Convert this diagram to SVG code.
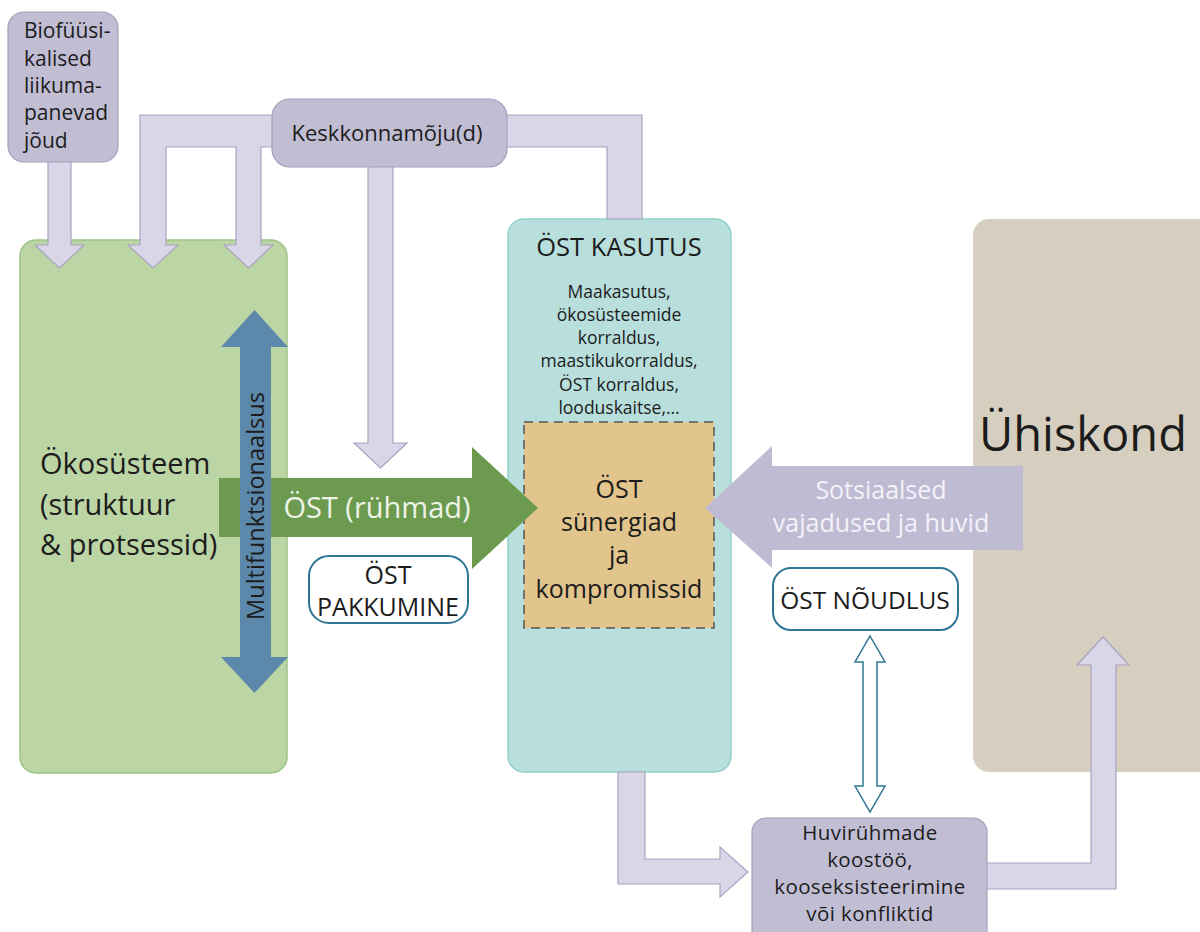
<svg xmlns="http://www.w3.org/2000/svg" width="1200" height="932" viewBox="0 0 1200 932">
<style>
text{font-family:"Open Sans","Noto Sans",sans-serif;fill:#1c1c1c}
.c{text-anchor:middle}
.lav{fill:#d9d7e7;stroke:#a7a4c0;stroke-width:1.2}
.pbox{fill:#c1bed4;stroke:#a3a0bd;stroke-width:1.2}
.obox{fill:#fff;stroke:#2f7595;stroke-width:2}
</style>
<rect width="1200" height="932" fill="#fff"/>
<g id="okosusteem">
<rect x="20" y="240" width="267" height="533" rx="16" fill="#bcd5a5" stroke="#9cc388" stroke-width="1.5"/>
<text x="40" y="474" font-size="29">Ökosüsteem</text>
<text x="40" y="515" font-size="29">(struktuur</text>
<text x="40" y="555" font-size="29">&amp; protsessid)</text>
</g>
<g id="ost-kasutus">
<rect x="508" y="219" width="223" height="553" rx="16" fill="#b8dfdc" stroke="#8ed2c9" stroke-width="1.5"/>
<text class="c" x="619" y="256" font-size="25.5">ÖST KASUTUS</text>
<text class="c" x="619" y="298" font-size="17.5">Maakasutus,</text>
<text class="c" x="619" y="321" font-size="17.5">ökosüsteemide</text>
<text class="c" x="619" y="344" font-size="17.5">korraldus,</text>
<text class="c" x="619" y="367" font-size="17.5">maastikukorraldus,</text>
<text class="c" x="619" y="391" font-size="17.5">ÖST korraldus,</text>
<text class="c" x="619" y="414" font-size="17.5">looduskaitse,…</text>
</g>
<g id="uhiskond">
<rect x="973" y="219" width="245" height="553" rx="16" fill="#d6cfc0"/>
<text x="979" y="451" font-size="47">Ühiskond</text>
</g>
<g id="synergiad">
<rect x="524" y="422" width="190" height="206" fill="#e2c48d" stroke="#555" stroke-width="1.5" stroke-dasharray="9 6"/>
<text class="c" x="619" y="498" font-size="25">ÖST</text>
<text class="c" x="619" y="531" font-size="25">sünergiad</text>
<text class="c" x="619" y="564" font-size="25">ja</text>
<text class="c" x="619" y="598" font-size="25">kompromissid</text>
</g>
<g id="connectors">
<polygon class="lav" points="290,115 140,115 140,245 128,245 153,268 178,245 166,245 166,147 236,147 236,245 224,245 248.5,268 273,245 261,245 261,147 290,147"/>
<polygon class="lav" points="48,150 71,150 71,245 84,245 59.5,268 35,245 48,245"/>
<polygon class="lav" points="368,160 393,160 393,443 407,443 380.5,468 354,443 368,443"/>
<polygon class="lav" points="500,115 642,115 642,219 607,219 607,147 500,147"/>
<polygon class="lav" points="618,772 645,772 645,859 720,859 720,847 748,872 720,897 720,884 618,884"/>
<polygon class="lav" points="980,863 1091,863 1091,665 1077,665 1103,637 1129,665 1116,665 1116,889 980,889"/>
<polygon points="219,478 472,478 472,447 538,508 472,569 472,537 219,537" fill="#6c9a4f"/>
<text class="c" x="377" y="518" font-size="29" style="fill:#eef3e8">ÖST (rühmad)</text>
<polygon points="1023,466 772,466 772,446 705,508 772,568 772,550 1023,550" fill="#bfbbd3"/>
<text class="c" x="881" y="499" font-size="25" style="fill:#f3f2f8">Sotsiaalsed</text>
<text class="c" x="881" y="532" font-size="25" style="fill:#f3f2f8">vajadused ja huvid</text>
<polygon points="254.5,310 288,347 271,347 271,657 288,657 254.5,693 221,657 240,657 240,347 221,347" fill="#5b88ab"/>
<text class="c" transform="translate(264,506) rotate(-90)" font-size="23.5">Multifunktsionaalsus</text>
<polygon points="870,636 885,662 877,662 877,786 885,786 870,812 855,786 863,786 863,662 855,662" fill="#fff" stroke="#2f7595" stroke-width="1.5"/>
</g>
<g id="biofuusi">
<rect x="8" y="12" width="110" height="150" rx="16" class="pbox"/>
<text x="24" y="38" font-size="21">Biofüüsi-</text>
<text x="24" y="66" font-size="21">kalised</text>
<text x="24" y="93" font-size="21">liikuma-</text>
<text x="24" y="120" font-size="21">panevad</text>
<text x="24" y="148" font-size="21">jõud</text>
</g>
<g id="keskkonnamoju">
<rect x="272" y="99" width="235" height="68" rx="18" class="pbox"/>
<text class="c" x="387" y="141" font-size="22">Keskkonnamõju(d)</text>
</g>
<g id="ost-pakkumine">
<rect x="309" y="556" width="159" height="67" rx="20" class="obox"/>
<text class="c" x="388" y="584" font-size="25">ÖST</text>
<text class="c" x="388" y="616" font-size="25">PAKKUMINE</text>
</g>
<g id="ost-noudlus">
<rect x="773" y="568" width="185" height="62" rx="18" class="obox"/>
<text class="c" x="865" y="609" font-size="24.5">ÖST NÕUDLUS</text>
</g>
<g id="huvirühmade">
<rect x="752" y="818" width="235" height="130" rx="14" class="pbox"/>
<text class="c" x="870" y="840" font-size="20.5" letter-spacing="0.4">Huvirühmade</text>
<text class="c" x="870" y="867" font-size="20.5" letter-spacing="0.4">koostöö,</text>
<text class="c" x="870" y="894" font-size="20.5" letter-spacing="0.4">kooseksisteerimine</text>
<text class="c" x="870" y="921" font-size="20.5" letter-spacing="0.4">või konfliktid</text>
</g>
</svg>
